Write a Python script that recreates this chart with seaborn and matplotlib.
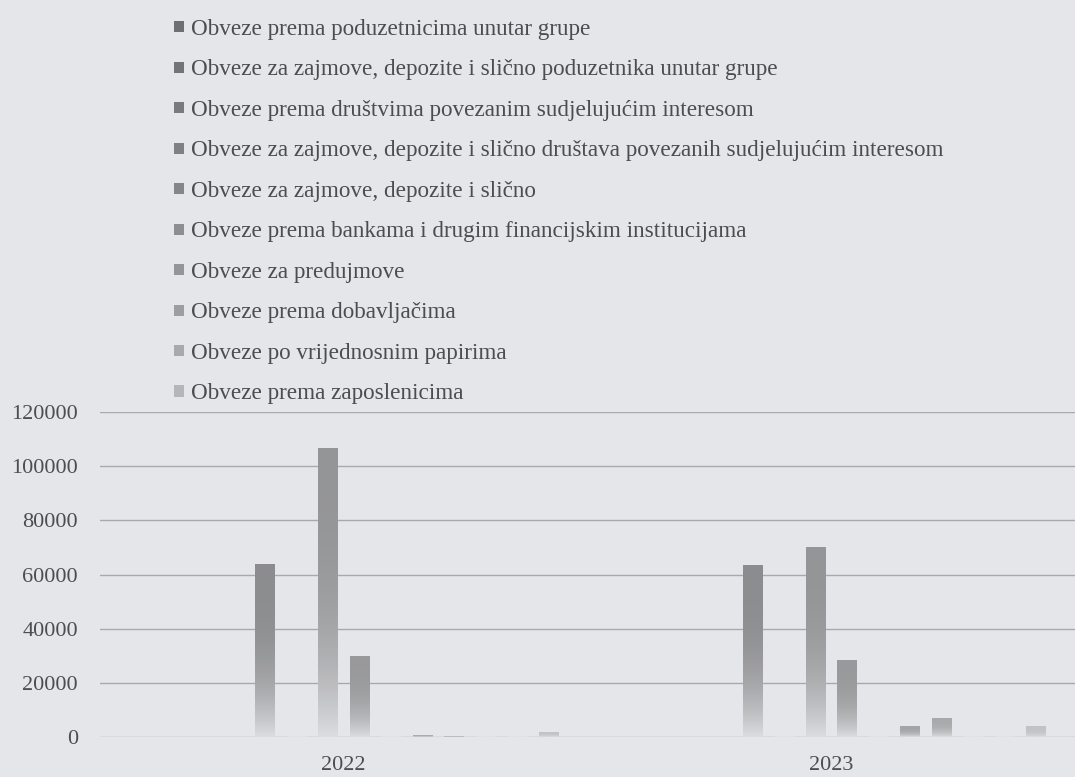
import numpy as np
import pandas as pd
import matplotlib
matplotlib.use("Agg")
import matplotlib.pyplot as plt
from matplotlib.patches import Patch
from matplotlib.colors import to_rgb
import seaborn as sns

# ---------------- data ----------------
years = ["2022", "2023"]
series = [
    "Obveze prema poduzetnicima unutar grupe",
    "Obveze za zajmove, depozite i slično poduzetnika unutar grupe",
    "Obveze prema društvima povezanim sudjelujućim interesom",
    "Obveze za zajmove, depozite i slično društava povezanih sudjelujućim interesom",
    "Obveze za zajmove, depozite i slično",
    "Obveze prema bankama i drugim financijskim institucijama",
    "Obveze za predujmove",
    "Obveze prema dobavljačima",
    "Obveze po vrijednosnim papirima",
    "Obveze prema zaposlenicima",
]
values_2022 = [63900, 0, 106600, 29800, 0, 800, 400, 0, 0, 1900]
values_2023 = [63600, 0, 70300, 28600, 0, 4000, 7100, 0, 0, 4000]
# series whose legend entries are cut off above the visible area (no visible bars)
hidden_series = ["_h1", "_h2", "_h3", "_h4"]
series_colors = ["#6f6f71", "#747476", "#7a7a7c", "#808082", "#868688",
                 "#8e8e90", "#959597", "#9e9ea0", "#a9a9ab", "#b6b6b8"]
yticks = [0, 20000, 40000, 60000, 80000, 100000, 120000]

# ---------------- style ----------------
BG = "#e4e6ea"
TXT = "#4d4d4f"
sns.set_theme(style="white")
plt.rcParams["font.family"] = ["Liberation Serif", "DejaVu Serif"]

df = pd.DataFrame({
    "year": [y for y in years for _ in series],
    "series": series * 2,
    "value": values_2022 + values_2023,
})

palette = {s: c for s, c in zip(series, series_colors)}
for h in hidden_series:
    palette[h] = BG

fig = plt.figure(figsize=(10.75, 7.77), dpi=100, facecolor=BG)
ax = fig.add_axes([100 / 1075, 40 / 777, 975 / 1075, 325 / 777])
ax.set_facecolor(BG)

sns.barplot(data=df, x="year", y="value", hue="series",
            hue_order=hidden_series + series, order=years,
            palette=palette, width=0.905, gap=0.39, legend=False,
            errorbar=None, ax=ax, zorder=3)

# gradient fill (dark top -> light bottom) clipped to each bar
bg_rgb = np.array(to_rgb("#dcdde0"))
for p in list(ax.patches):
    h = p.get_height()
    if h <= 0:
        continue
    base = np.array(p.get_facecolor()[:3])
    top = base * 0.75 + np.array(to_rgb(BG)) * 0.25
    n = 200
    t = np.linspace(0, 1, n)[:, None]
    w = t ** 3.0
    cols = top * (1 - w) + bg_rgb * w
    img = np.repeat(cols[:, None, :], 2, axis=1)
    x0 = p.get_x()
    im = ax.imshow(img, extent=(x0, x0 + p.get_width(), 0, h),
                   origin="upper", aspect="auto", zorder=3.5,
                   interpolation="bilinear")
    im.set_clip_path(p)
    p.set_alpha(0)

ax.set_xlim(-0.5, 1.5)
ax.set_ylim(0, 120000)
ax.set_yticks(yticks)
ax.set_yticklabels([str(v) for v in yticks])
ax.grid(axis="y", color="#a9a9ac", linewidth=1.0, zorder=0)
ax.set_axisbelow(True)
for s in ax.spines.values():
    s.set_visible(False)
ax.tick_params(axis="y", length=0, pad=16, labelsize=16, labelcolor=TXT)
ax.tick_params(axis="x", length=0, pad=14, labelsize=16, labelcolor=TXT)
ax.set_xlabel("")
ax.set_ylabel("")

handles = [Patch(facecolor=c, edgecolor="none") for c in series_colors]
fig.legend(handles, series, loc="upper left",
           bbox_to_anchor=(174 / 1075, 1 - 19 / 777),
           frameon=False, fontsize=16.7, labelcolor=TXT,
           handlelength=0.42, handleheight=0.36, handletextpad=0.3,
           labelspacing=0.84, borderaxespad=0, borderpad=0)

fig.savefig("out.png", dpi=100, facecolor=BG)
